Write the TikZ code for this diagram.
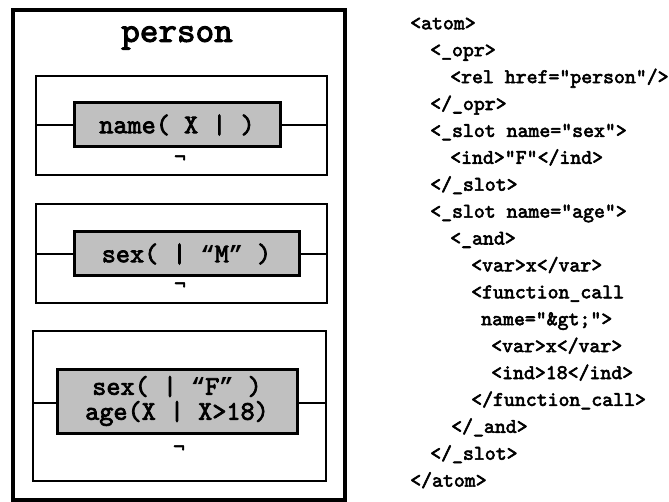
\documentclass[tikz,border=0pt]{standalone}
\usepackage{fontspec}
\newfontfamily\courb[FakeBold=2.8]{lmmono10-regular.otf}
\newfontfamily\quotefont{Liberation Mono}
\newcommand{\oq}{{\quotefont\bfseries\fontsize{23.5}{25}\selectfont “}}
\newcommand{\cq}{{\quotefont\bfseries\fontsize{23.5}{25}\selectfont ”}}
\definecolor{boxgrey}{RGB}{192,192,192}
\begin{document}
\begin{tikzpicture}[x=1pt,y=-1pt,
  outerframe/.style={draw, line width=4pt, minimum width=332pt, minimum height=489pt, inner sep=0pt},
  frame/.style={draw, line width=1.3pt, inner sep=0pt},
  greybox/.style={draw, line width=3pt, fill=boxgrey, inner sep=0pt, align=center,
    font=\courb\fontsize{26.9}{25}\selectfont},
  link/.style={line width=1.3pt},
  negsign/.style={inner sep=0pt, font=\courb\fontsize{22}{22}\selectfont},
  xml/.style={anchor=base west, inner sep=0pt, font=\courb\fontsize{20.8}{20}\selectfont}]
\useasboundingbox (0,0) rectangle (669,502);
% outer frame and title
\node[outerframe] (outer) at (178.75,255) {};
\node[inner sep=0pt, font=\courb\fontsize{35.4}{35}\selectfont] (title) at (177,38) {person};
% first frame
\node[frame, minimum width=291pt, minimum height=99pt] (f1) at (181.5,125.5) {};
\node[greybox, minimum width=206pt, minimum height=44pt] (g1) at (177,125) {name( X | )};
\node[negsign] (n1) at (180,160) {¬};
\draw[link] (g1.west) -- (g1.west -| f1.west);
\draw[link] (g1.east) -- (g1.east -| f1.east);
% second frame
\node[frame, minimum width=291pt, minimum height=99pt] (f2) at (181.5,253.5) {};
\node[greybox, minimum width=225pt, minimum height=44pt] (g2) at (186.5,254) {sex( | \oq M\cq{} )};
\node[negsign] (n2) at (180,287) {¬};
\draw[link] (g2.west) -- (g2.west -| f2.west);
\draw[link] (g2.east) -- (g2.east -| f2.east);
% third frame
\node[frame, minimum width=293pt, minimum height=150pt] (f3) at (179.5,406) {};
\node[greybox, minimum width=240pt, minimum height=64pt] (g3) at (177,401) {sex( | \oq F\cq{} )\\age(X | X>18)};
\node[negsign] (n3) at (179,450) {¬};
\draw[link] ([yshift=-2pt]g3.west) -- ([yshift=-2pt]g3.west -| f3.west);
\draw[link] ([yshift=-2pt]g3.east) -- ([yshift=-2pt]g3.east -| f3.east);
% XML listing
\node[xml] (x0)  at (410,29.3)  {<atom>};
\node[xml] (x1)  at (430,56.2)  {<\_opr>};
\node[xml] (x2)  at (450,83.1)  {<rel href="person"/>};
\node[xml] (x3)  at (430,110.0) {</\_opr>};
\node[xml] (x4)  at (430,136.9) {<\_slot name="sex">};
\node[xml] (x5)  at (450,163.8) {<ind>"F"</ind>};
\node[xml] (x6)  at (430,190.7) {</\_slot>};
\node[xml] (x7)  at (430,217.6) {<\_slot name="age">};
\node[xml] (x8)  at (450,244.5) {<\_and>};
\node[xml] (x9)  at (471,271.4) {<var>x</var>};
\node[xml] (x10) at (471,298.3) {<function\_call};
\node[xml] (x11) at (481,325.2) {name="\&gt;">};
\node[xml] (x12) at (491,352.1) {<var>x</var>};
\node[xml] (x13) at (491,379.0) {<ind>18</ind>};
\node[xml] (x14) at (471,405.9) {</function\_call>};
\node[xml] (x15) at (451,432.8) {</\_and>};
\node[xml] (x16) at (430,459.7) {</\_slot>};
\node[xml] (x17) at (410,486.6) {</atom>};
\end{tikzpicture}
\end{document}
